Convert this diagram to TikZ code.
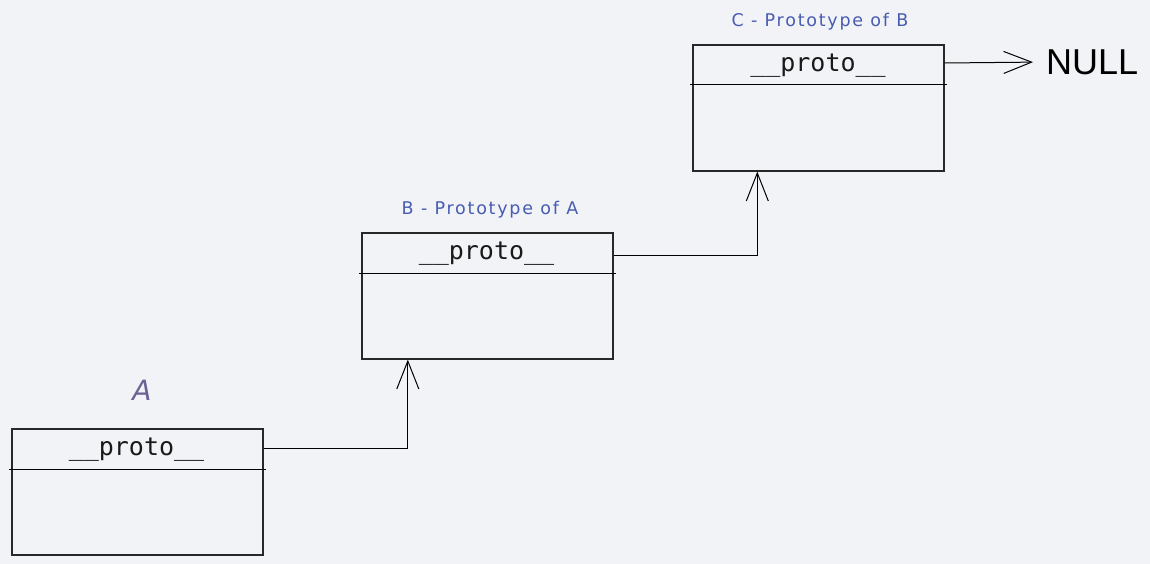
\documentclass[tikz,border=0pt]{standalone}
\usepackage{fontspec}
\newfontfamily\monof{DejaVu Sans Mono}
\newfontfamily\labf[LetterSpace=10]{DejaVu Sans}
\newfontfamily\alabf{DejaVu Sans}
\newfontfamily\nullf{Liberation Sans}
\usetikzlibrary{arrows.meta}
\definecolor{bg}{RGB}{242,243,246}
\definecolor{boxc}{RGB}{40,40,40}
\definecolor{labc}{RGB}{72,92,178}
\definecolor{ac}{RGB}{108,98,148}
\begin{document}
\begin{tikzpicture}[x=1pt,y=-1pt,
  box/.style={draw=boxc, line width=1.6pt, minimum width=251pt, minimum height=126pt, inner sep=0pt, anchor=north west},
  divider/.style={draw=black, line width=1pt},
  title/.style={font=\monof\fontsize{25}{25}\selectfont, text=black!90, inner sep=0pt},
  lab/.style={font=\labf\fontsize{17.5}{17.5}\selectfont, text=labc, inner sep=0pt},
  conn/.style={draw=black, line width=1pt, -{Straight Barb[length=28pt,width=22pt,line width=1pt]}},
  nulltext/.style={font=\nullf\fontsize{36}{36}\selectfont, text=black, inner sep=0pt, anchor=west}]
\fill[bg] (0,0) rectangle (1150,564);
\useasboundingbox (0,0) rectangle (1150,564);

% boxes
\node[box] (C) at (692,44) {};
\node[box] (B) at (361,232) {};
\node[box] (A) at (11,428) {};

\draw[divider] ([shift={(-2pt,-41pt)}]C.north west) -- ([shift={(2pt,-41pt)}]C.north east);
\draw[divider] ([shift={(-2pt,-41pt)}]B.north west) -- ([shift={(2pt,-41pt)}]B.north east);
\draw[divider] ([shift={(-2pt,-41pt)}]A.north west) -- ([shift={(2pt,-41pt)}]A.north east);

\node[title] (Ct) at (818,66) {\_\_proto\_\_};
\node[title] (Bt) at (486.5,254) {\_\_proto\_\_};
\node[title] (At) at (136.5,450) {\_\_proto\_\_};

% labels
\node[lab] (Cl) at (820,22) {C - Prototype of B};
\node[lab] (Bl) at (490,210) {B - Prototype of A};
\node[font=\alabf\itshape\fontsize{28}{28}\selectfont, text=ac, inner sep=0pt] (Al) at (142,390) {A};

% NULL
\node[nulltext] (N) at (1046,62) {NULL};

% connectors
\draw[conn, shorten >=13pt] ([yshift=-19pt]C.north east) -- (N.west);
\draw[conn] ([yshift=-23pt]B.north east) -| ([xshift=-61pt]C.south);
\draw[conn] ([yshift=-20pt]A.north east) -| ([xshift=-79.5pt]B.south);
\end{tikzpicture}
\end{document}
